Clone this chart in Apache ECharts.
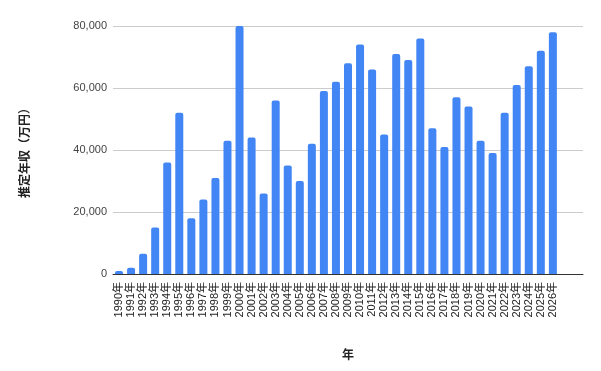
<!DOCTYPE html>
<html>
<head>
<meta charset="utf-8">
<script src="https://cdn.jsdelivr.net/npm/echarts@6/dist/echarts.min.js"></script>
<style>
  html, body { margin: 0; padding: 0; background: #fff; }
  #main { width: 601px; height: 371px; }
</style>
</head>
<body>
<div id="main"></div>
<script>
var years = ['1990年','1991年','1992年','1993年','1994年','1995年','1996年','1997年','1998年','1999年',
  '2000年','2001年','2002年','2003年','2004年','2005年','2006年','2007年','2008年','2009年',
  '2010年','2011年','2012年','2013年','2014年','2015年','2016年','2017年','2018年','2019年',
  '2020年','2021年','2022年','2023年','2024年','2025年','2026年', '', ''];
var income = [1000, 2000, 6500, 15000, 36000, 52000, 18000, 24000, 31000, 43000,
  80000, 44000, 26000, 56000, 35000, 30000, 42000, 59000, 62000, 68000,
  74000, 66000, 45000, 71000, 69000, 76000, 47000, 41000, 57000, 54000,
  43000, 39000, 52000, 61000, 67000, 72000, 78000];
var yTicks = [0, 20000, 40000, 60000, 80000];

var font = '"Liberation Sans", Arial, "Noto Sans CJK JP", sans-serif';
var myChart = echarts.init(document.getElementById('main'));
myChart.setOption({
  animation: false,
  textStyle: { fontFamily: font },
  grid: { left: 113, right: 18, top: 26, bottom: 97 },
  xAxis: {
    type: 'category',
    data: years,
    name: '年',
    nameLocation: 'middle',
    nameGap: 76,
    nameTextStyle: { fontFamily: font, fontSize: 12, fontWeight: 'bold', color: '#222' },
    axisLine: { lineStyle: { color: '#333', width: 1 } },
    axisTick: { show: false },
    axisLabel: { rotate: 90, interval: 0, fontSize: 11, color: '#222', margin: 8, fontFamily: font }
  },
  yAxis: {
    type: 'value',
    min: yTicks[0],
    max: yTicks[yTicks.length - 1],
    interval: yTicks[1] - yTicks[0],
    name: '推定年収（万円）',
    nameLocation: 'middle',
    nameGap: 81,
    nameTextStyle: { fontFamily: font, fontSize: 12, fontWeight: 'bold', color: '#222' },
    axisLine: { show: false },
    axisTick: { show: false },
    splitLine: { lineStyle: { color: '#ccc' } },
    axisLabel: {
      fontSize: 11, color: '#444', margin: 6, fontFamily: font,
      formatter: function (v) { return v.toLocaleString('en-US'); }
    }
  },
  series: [{
    type: 'bar',
    data: income,
    barWidth: 8,
    itemStyle: { color: '#4285f4', borderRadius: [2, 2, 0, 0] }
  }]
});
</script>
</body>
</html>
